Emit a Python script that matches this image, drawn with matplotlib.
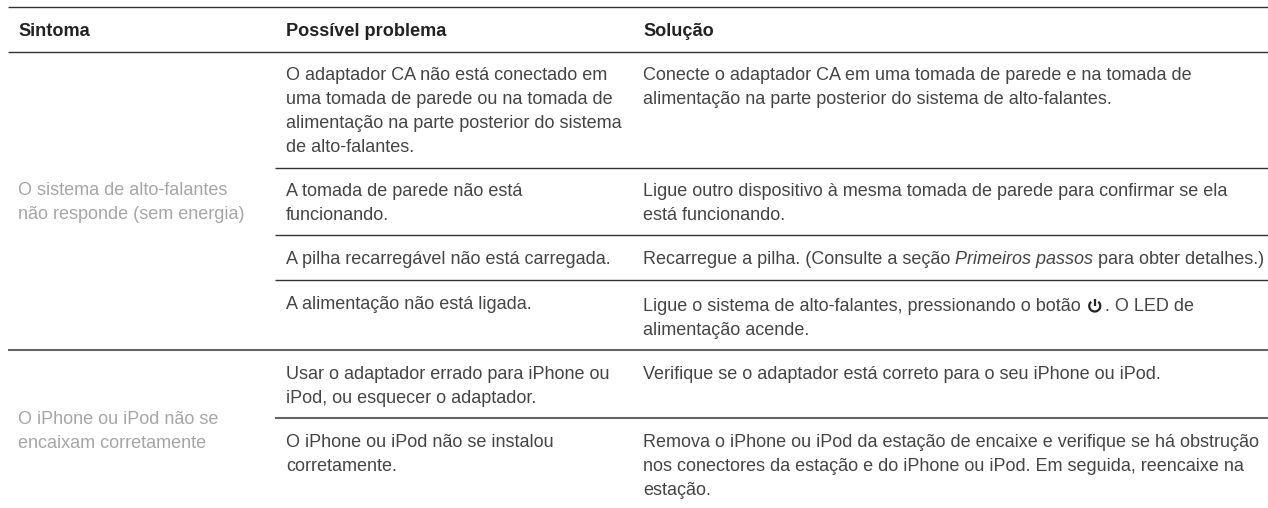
import matplotlib
matplotlib.use("Agg")
import matplotlib.pyplot as plt
from matplotlib.patches import Arc

W, H = 1268, 508
FONT = "Liberation Sans"
FS = 12.95
TEXT = "#454545"
GREY = "#a6a6a6"
LINE_H = 23.9
DY = 1.8

headers = ["Sintoma", "Possível problema", "Solução"]
sintomas = [
    ["O sistema de alto-falantes", "não responde (sem energia)"],
    ["O iPhone ou iPod não se", "encaixam corretamente"],
]
problemas = [
    ["O adaptador CA não está conectado em", "uma tomada de parede ou na tomada de",
     "alimentação na parte posterior do sistema", "de alto-falantes."],
    ["A tomada de parede não está", "funcionando."],
    ["A pilha recarregável não está carregada."],
    ["A alimentação não está ligada."],
    ["Usar o adaptador errado para iPhone ou", "iPod, ou esquecer o adaptador."],
    ["O iPhone ou iPod não se instalou", "corretamente."],
]
solucoes = [
    ["Conecte o adaptador CA em uma tomada de parede e na tomada de",
     "alimentação na parte posterior do sistema de alto-falantes."],
    ["Ligue outro dispositivo à mesma tomada de parede para confirmar se ela",
     "está funcionando."],
    None,
    None,
    ["Verifique se o adaptador está correto para o seu iPhone ou iPod."],
    ["Remova o iPhone ou iPod da estação de encaixe e verifique se há obstrução",
     "nos conectores da estação e do iPhone ou iPod. Em seguida, reencaixe na",
     "estação."],
]
sol_pilha = [("Recarregue a pilha. (Consulte a seção ", "normal"),
             ("Primeiros passos", "italic"),
             (" para obter detalhes.)", "normal")]
sol_ligar_a = "Ligue o sistema de alto-falantes, pressionando o botão "
sol_ligar_b = ". O LED de"
sol_ligar_c = "alimentação acende."

X = [18, 286, 643]
row_y = [74, 189.5, 258, 303, 373, 441]
sol_y = [74, 189.5, 258, 305, 373, 441]

fig = plt.figure(figsize=(W / 100, H / 100), dpi=100)
ax = fig.add_axes([0, 0, 1, 1])
ax.set_xlim(0, W)
ax.set_ylim(H, 0)
ax.axis("off")


def txt(x, y, s, color=TEXT, size=FS, **kw):
    return ax.text(x, y + DY, s, color=color, family=FONT, fontsize=size, va="center", ha="left", **kw)


def rule(y, x0, color, lw):
    ax.plot([x0, W], [y, y], color=color, lw=lw, solid_capstyle="butt")


for y, x0, c, lw in [(7, 8, "#333333", 1.0), (52, 8, "#333333", 1.0), (168, 275, "#333333", 1.0),
                     (235, 275, "#333333", 1.0), (280, 275, "#333333", 1.0),
                     (350, 8, "#666666", 1.5), (418, 275, "#666666", 1.5)]:
    rule(y, x0, c, lw)

for x, h in zip(X, headers):
    txt(x, 30, h, color="#222222", size=13.1, weight="bold")

for lines, y in zip(sintomas, [189, 418]):
    for i, s in enumerate(lines):
        txt(X[0], y + i * LINE_H, s, color=GREY)

for lines, y in zip(problemas, row_y):
    for i, s in enumerate(lines):
        txt(X[1], y + i * LINE_H, s)
for lines, y in zip(solucoes, sol_y):
    if lines:
        for i, s in enumerate(lines):
            txt(X[2], y + i * LINE_H, s)

fig.canvas.draw()
r = fig.canvas.get_renderer()
x = X[2]
for s, style in sol_pilha:
    t = txt(x, sol_y[2], s, style=style)
    x += t.get_window_extent(r).width

t = txt(X[2], sol_y[3], sol_ligar_a)
x = X[2] + t.get_window_extent(r).width
yc = sol_y[3]
ax.add_patch(Arc((x + 9, yc + 1), 11, 11, theta1=-50, theta2=230, color="#222222", lw=1.6))
ax.plot([x + 9, x + 9], [yc - 6.5, yc + 0.5], color="#222222", lw=1.6, solid_capstyle="butt")
txt(x + 19.5, sol_y[3], sol_ligar_b)
txt(X[2], sol_y[3] + LINE_H, sol_ligar_c)

fig.savefig("out.png", dpi=100)
